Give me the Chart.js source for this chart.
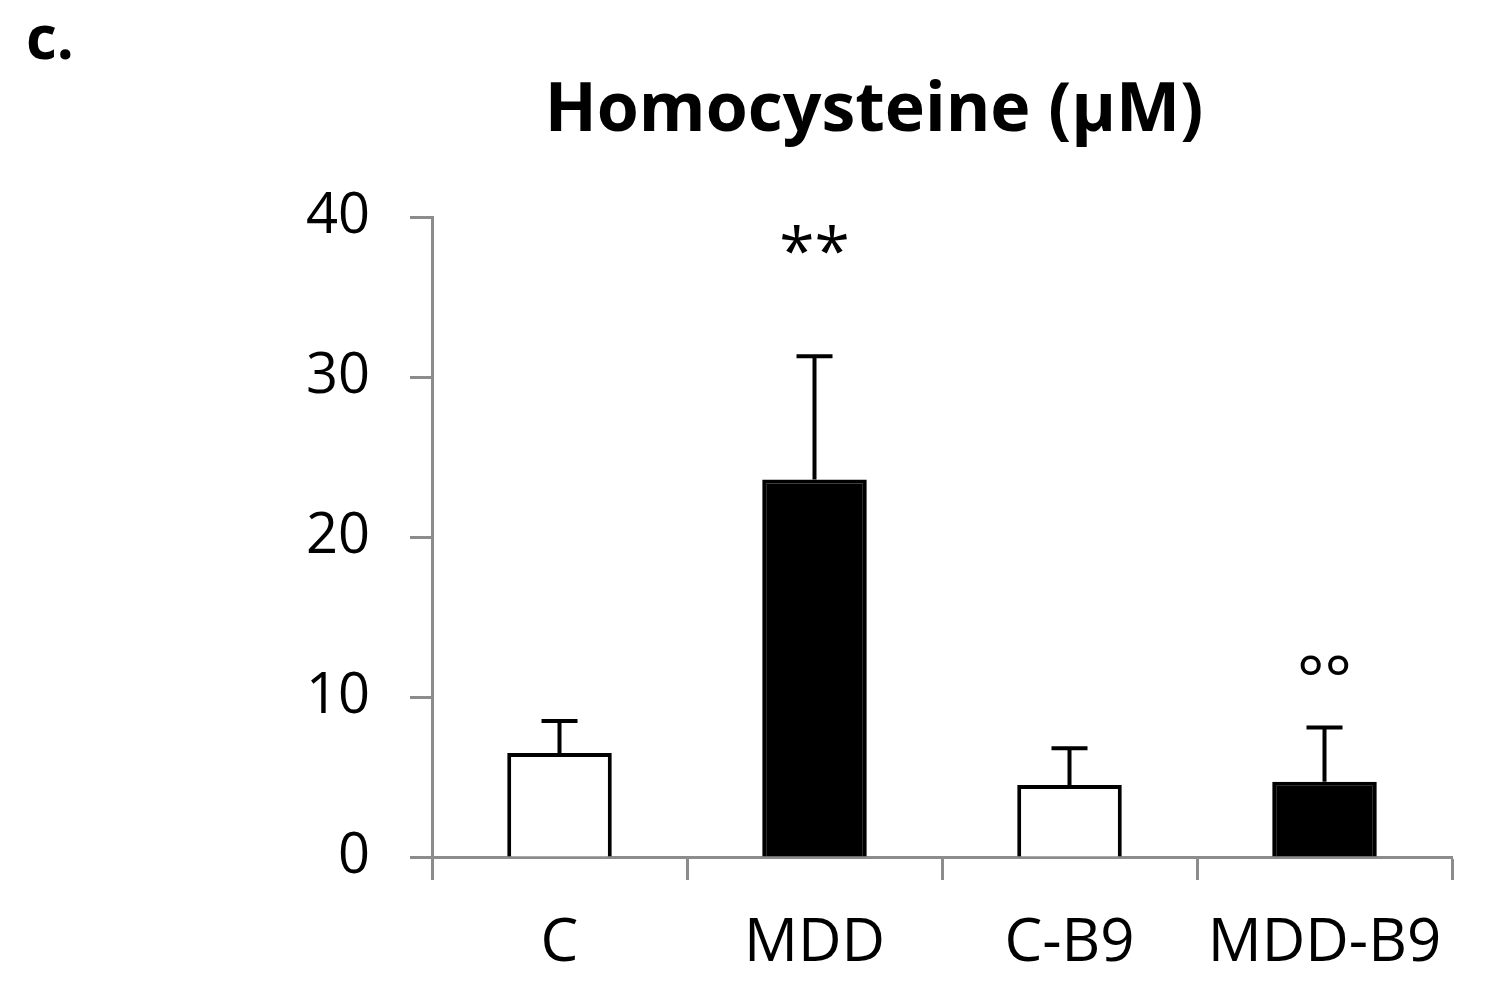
<!DOCTYPE html>
<html>
<head>
<meta charset="utf-8">
<title>Homocysteine</title>
<script src="https://cdn.jsdelivr.net/npm/chart.js@4.4.1/dist/chart.umd.min.js"></script>
<style>
  html, body { margin: 0; padding: 0; background: #fff; }
  #wrap { width: 1487px; height: 993px; position: relative; }
</style>
</head>
<body>
<div id="wrap"><canvas id="chart"></canvas></div>
<script>
// Data
const groups = ['C', 'MDD', 'C-B9', 'MDD-B9'];
const means = [6.5, 23.6, 4.5, 4.7];
const errorTops = [8.5, 31.3, 6.8, 8.1];
const marks = ['', '**', '', '°°'];
const markLevels = [0, 37.6, 0, 10.8];
const fills = ['#ffffff', '#000000', '#ffffff', '#000000'];
const yTicks = [0, 10, 20, 30, 40];
const chartTitle = 'Homocysteine (µM)';
const panelLetter = 'c.';

const FONT = "'Open Sans', 'DejaVu Sans', sans-serif";
const AXIS_GREY = '#8c8c8c';

// error bars, significance marks, title and panel letter
const extras = {
    id: 'extras',
    afterDatasetsDraw(chart) {
        const ctx = chart.ctx;
        const meta = chart.getDatasetMeta(0);
        const y = chart.scales.y;
        ctx.save();
        ctx.strokeStyle = '#000';
        ctx.lineWidth = 4;
        meta.data.forEach(function(bar, i) {
            const x = bar.x;
            const yTop = y.getPixelForValue(errorTops[i]);
            ctx.beginPath();
            ctx.moveTo(x, bar.y);
            ctx.lineTo(x, yTop);
            ctx.moveTo(x - 18, yTop);
            ctx.lineTo(x + 18, yTop);
            ctx.stroke();
            if (marks[i]) {
                ctx.fillStyle = '#000';
                ctx.font = '64px ' + FONT;
                ctx.textAlign = 'center';
                ctx.textBaseline = 'middle';
                ctx.fillText(marks[i], x, y.getPixelForValue(markLevels[i]));
            }
        });
        ctx.fillStyle = '#000';
        ctx.textBaseline = 'middle';
        ctx.font = 'bold 68px ' + FONT;
        ctx.textAlign = 'center';
        ctx.fillText(chartTitle, 874, 112);
        ctx.font = 'bold 60px ' + FONT;
        ctx.textAlign = 'left';
        ctx.fillText(panelLetter, 26, 42);
        ctx.restore();
    }
};

new Chart(document.getElementById('chart'), {
    type: 'bar',
    data: {
        labels: groups,
        datasets: [{
            data: means,
            backgroundColor: fills,
            borderColor: '#000',
            borderWidth: { top: 4, left: 4, right: 4, bottom: 0 },
            borderSkipped: 'bottom',
            barPercentage: 0.82,
            categoryPercentage: 0.5
        }]
    },
    options: {
        responsive: true,
        maintainAspectRatio: false,
        animation: false,
        devicePixelRatio: 1,
        layout: { padding: { left: 0, right: 35, top: 217, bottom: 0 } },
        plugins: {
            legend: { display: false },
            tooltip: { enabled: false },
            title: { display: false }
        },
        scales: {
            x: {
                offset: true,
                border: { color: AXIS_GREY, width: 3 },
                grid: {
                    offset: true,
                    drawOnChartArea: false,
                    drawTicks: true,
                    tickLength: 23,
                    tickWidth: 3,
                    color: AXIS_GREY
                },
                ticks: {
                    color: '#000',
                    padding: 28,
                    font: { family: FONT, size: 60 }
                },
                afterFit(scale) { scale.height = 136; }
            },
            y: {
                min: 0,
                max: 40,
                border: { color: AXIS_GREY, width: 3 },
                grid: {
                    drawOnChartArea: false,
                    drawTicks: true,
                    tickLength: 22,
                    tickWidth: 3,
                    color: AXIS_GREY
                },
                afterBuildTicks(scale) {
                    scale.ticks = yTicks.map(v => ({ value: v }));
                },
                ticks: {
                    color: '#000',
                    padding: 40,
                    font: { family: FONT, size: 56 }
                },
                afterFit(scale) { scale.width = 432; }
            }
        }
    },
    plugins: [extras]
});
</script>
</body>
</html>
